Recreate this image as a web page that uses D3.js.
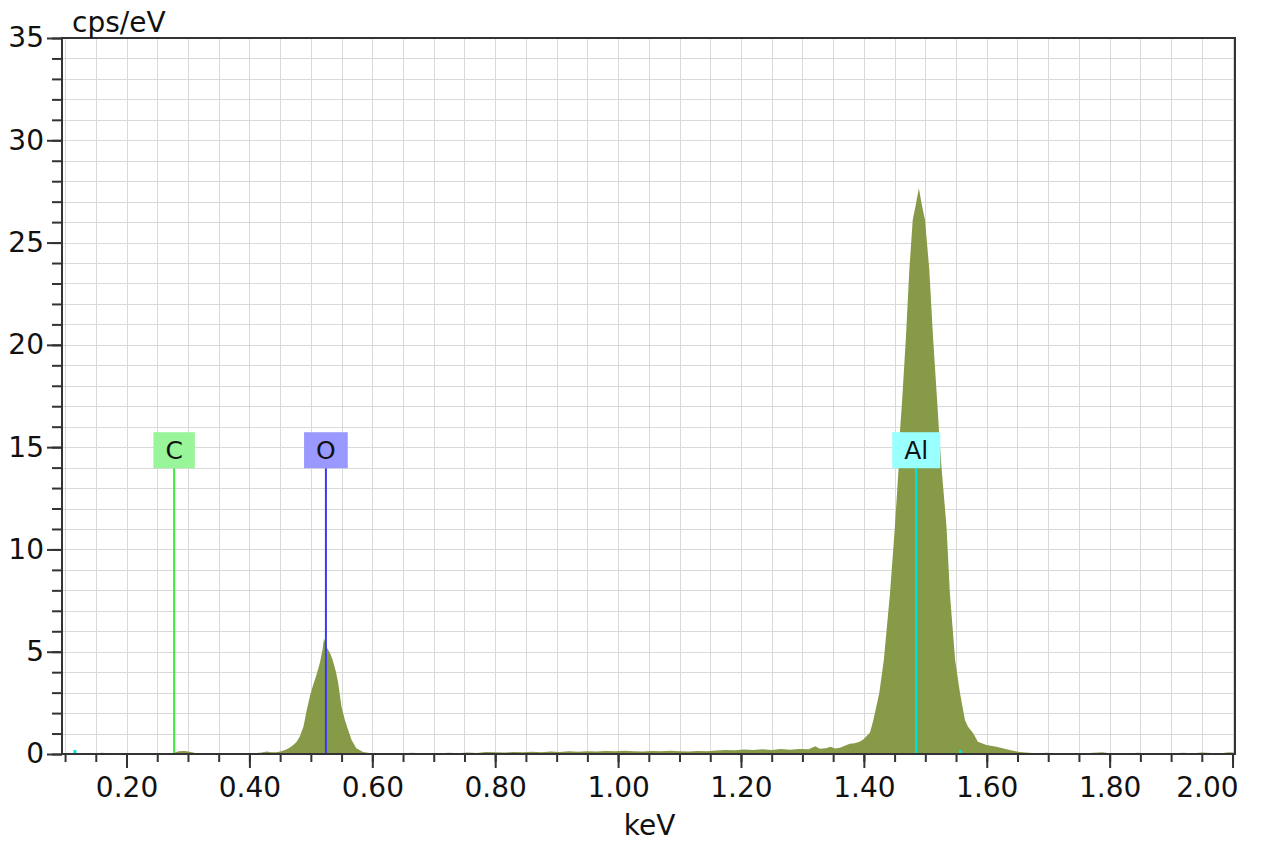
<!DOCTYPE html>
<html>
<head>
<meta charset="utf-8">
<script src="https://cdn.jsdelivr.net/npm/d3@7"></script>
<style>
  body { margin: 0; background: #fff; }
  text { font-family: "DejaVu Sans", Verdana, sans-serif; fill: #111; }
</style>
</head>
<body>
<div id="chart"></div>
<script>

// spectrum (keV, cps/eV)
const spectrumKeV = [
  0.095, 0.11, 0.12, 0.135, 0.15, 0.16, 0.175, 0.19, 0.205, 0.22, 0.235, 0.25, 0.265, 0.275,
  0.285, 0.295, 0.305, 0.315, 0.33, 0.345, 0.36, 0.375, 0.39, 0.405, 0.42, 0.428, 0.436, 0.444,
  0.452, 0.46, 0.466,
  0.4715, 0.477, 0.482, 0.488, 0.493, 0.499, 0.504, 0.5095, 0.515, 0.519, 0.5214, 0.524, 0.527,
  0.531, 0.5355, 0.541, 0.5446, 0.550, 0.5555, 0.561, 0.5663, 0.574, 0.585,
  0.595, 0.605, 0.62, 0.635, 0.65, 0.665, 0.68, 0.695, 0.71, 0.725, 0.74, 0.755, 0.77, 0.785,
  0.80, 0.815, 0.83, 0.845, 0.86, 0.875, 0.89, 0.905, 0.92, 0.935, 0.95, 0.965, 0.98, 0.995,
  1.01, 1.025, 1.04, 1.055, 1.07, 1.085, 1.10, 1.115, 1.13, 1.145, 1.16, 1.175, 1.19, 1.205,
  1.22, 1.235, 1.25, 1.265, 1.28, 1.295, 1.31, 1.321, 1.328, 1.338, 1.346, 1.353, 1.361, 1.369,
  1.377, 1.385, 1.393, 1.3995, 1.410, 1.4155, 1.425, 1.4325, 1.4425, 1.4505, 1.4565, 1.4585, 1.462,
  1.4685, 1.474, 1.4795, 1.4848, 1.4895, 1.494, 1.4995, 1.5065, 1.5125, 1.5195, 1.5225, 1.5265, 1.5345,
  1.540, 1.5485, 1.5565, 1.5645, 1.5695, 1.578, 1.5855, 1.5995, 1.6155, 1.6375, 1.653,
  1.668, 1.683, 1.698, 1.713, 1.728, 1.743, 1.758, 1.773, 1.788, 1.80, 1.815, 1.83, 1.845, 1.86,
  1.875, 1.89, 1.905, 1.92, 1.935, 1.95, 1.965, 1.98, 1.995, 2.004
];
const spectrumCps = [
  0.02, 0.04, 0.03, 0.05, 0.03, 0.06, 0.03, 0.05, 0.03, 0.02, 0.04, 0.03, 0.05, 0.04,
  0.13, 0.15, 0.10, 0.03, 0.02, 0.04, 0.02, 0.03, 0.02, 0.03, 0.07, 0.12, 0.08, 0.09,
  0.14, 0.22, 0.32,
  0.44, 0.60, 0.85, 1.35, 2.1, 2.9, 3.4, 3.9, 4.5, 5.1, 5.65, 5.4, 5.15,
  4.95, 4.6, 4.0, 3.45, 2.3, 1.65, 1.15, 0.68, 0.28, 0.10,
  0.05, 0.03, 0.05, 0.03, 0.04, 0.06, 0.03, 0.05, 0.04, 0.06, 0.04, 0.07, 0.05, 0.10,
  0.09, 0.07, 0.10, 0.08, 0.11, 0.09, 0.12, 0.10, 0.13, 0.11, 0.14, 0.12, 0.15, 0.13,
  0.16, 0.14, 0.12, 0.15, 0.13, 0.16, 0.14, 0.12, 0.15, 0.13, 0.17, 0.20, 0.18, 0.22,
  0.19, 0.23, 0.20, 0.24, 0.21, 0.25, 0.23, 0.38, 0.26, 0.28, 0.36, 0.27, 0.30, 0.40,
  0.50, 0.52, 0.60, 0.72, 1.05, 1.66, 2.97, 4.59, 7.85, 11.11, 13.96, 15.67, 17.14,
  20.4, 23.66, 26.1, 26.9, 27.65, 26.9, 26.1, 23.66, 20.4, 17.14, 15.67, 13.96, 11.11,
  7.85, 4.59, 2.97, 1.66, 1.33, 1.01, 0.60, 0.44, 0.36, 0.20, 0.10,
  0.06, 0.04, 0.06, 0.03, 0.05, 0.04, 0.03, 0.06, 0.08, 0.04, 0.05, 0.03, 0.06, 0.04,
  0.03, 0.05, 0.04, 0.06, 0.04, 0.07, 0.05, 0.04, 0.08, 0.06
];

// element markers
const elements = ['C', 'O', 'Al'];
const elementKeV = [0.2775, 0.5245, 1.4852];
const lineColors = ['#3fe63f', '#3a3af5', '#00e3e3'];
const boxColors = ['#99f599', '#9999ff', '#99ffff'];
const labelLevel = 14.85;

const xMajorTicks = [0.2, 0.4, 0.6, 0.8, 1.0, 1.2, 1.4, 1.6, 1.8, 2.0];
const yMajorTicks = [0, 5, 10, 15, 20, 25, 30, 35];

var width = 1261,
    height = 844,
    plotLeft = 62, plotRight = 1235, plotTop = 38, plotBottom = 754;

var x = d3.scaleLinear().domain([0.095, 2.004]).range([plotLeft, plotRight]);
var y = d3.scaleLinear().domain([0, 35]).range([plotBottom, plotTop]);

var svg = d3.select('#chart').append('svg')
    .attr('width', width)
    .attr('height', height);

svg.append('rect').attr('width', width).attr('height', height).attr('fill', '#fff');

// grid
var xMinor = d3.range(0.10, 2.0001, 0.05);
var yMinor = d3.range(0, 35.001, 1);

svg.append('g').selectAll('line')
    .data(xMinor).enter().append('line')
    .attr('x1', d => Math.round(x(d)) + 0.5).attr('x2', d => Math.round(x(d)) + 0.5)
    .attr('y1', plotTop).attr('y2', plotBottom)
    .attr('stroke', '#d9d9d9').attr('stroke-width', 1);

svg.append('g').selectAll('line')
    .data(yMinor.filter(d => d > 0 && d < 35)).enter().append('line')
    .attr('y1', d => Math.round(y(d)) + 0.5).attr('y2', d => Math.round(y(d)) + 0.5)
    .attr('x1', plotLeft).attr('x2', plotRight)
    .attr('stroke', '#d9d9d9').attr('stroke-width', 1);

// spectrum
var area = d3.area()
    .x((d, i) => x(spectrumKeV[i]))
    .y0(y(0))
    .y1(d => y(d));

svg.append('path')
    .datum(spectrumCps)
    .attr('d', area)
    .attr('fill', '#869a47');

// element lines and boxes
var boxH = 36;
elements.forEach(function (el, i) {
    var cx = x(elementKeV[i]);
    var cy = y(labelLevel);
    svg.append('line')
        .attr('x1', cx).attr('x2', cx)
        .attr('y1', cy + boxH / 2).attr('y2', plotBottom)
        .attr('stroke', lineColors[i]).attr('stroke-width', 2);
    var g = svg.append('g');
    var box = g.append('rect').attr('fill', boxColors[i]);
    var t = g.append('text')
        .attr('x', cx).attr('y', cy + 9)
        .attr('text-anchor', 'middle')
        .style('font-size', '25px')
        .text(el);
    var w = t.node().getComputedTextLength() + 24;
    box.attr('x', cx - w / 2).attr('y', cy - boxH / 2)
        .attr('width', w).attr('height', boxH);
});

// small marker dots on the baseline
[0.116, 1.557].forEach(function (k) {
    svg.append('rect')
        .attr('x', x(k) - 1.5).attr('y', plotBottom - 4)
        .attr('width', 3).attr('height', 3)
        .attr('fill', '#00e3e3');
});

// axes
var xMinorAxis = d3.axisBottom(x).tickValues(xMinor).tickSize(8).tickFormat('');
var xMajorAxis = d3.axisBottom(x).tickValues(xMajorTicks).tickSize(14).tickPadding(9)
    .tickFormat(d3.format('.2f'));
var yMinorAxis = d3.axisLeft(y).tickValues(yMinor).tickSize(10).tickFormat('');
var yMajorAxis = d3.axisLeft(y).tickValues(yMajorTicks).tickSize(15).tickPadding(3)
    .tickFormat(d3.format('d'));

function styleAxis(g) {
    g.select('.domain').remove();
    g.selectAll('.tick line').attr('stroke', '#333').attr('stroke-width', 2);
    g.selectAll('.tick text').style('font-size', '28px').style('font-family', '"DejaVu Sans", Verdana, sans-serif').attr('fill', '#111');
}

svg.append('g').attr('transform', `translate(0,${plotBottom})`).call(xMinorAxis).call(styleAxis);
var xg = svg.append('g').attr('transform', `translate(0,${plotBottom})`).call(xMajorAxis).call(styleAxis);
svg.append('g').attr('transform', `translate(${plotLeft},0)`).call(yMinorAxis).call(styleAxis);
svg.append('g').attr('transform', `translate(${plotLeft},0)`).call(yMajorAxis).call(styleAxis);

// keep the last label inside the frame, like the original
xg.selectAll('.tick text')
    .filter(d => d === 2.0)
    .attr('text-anchor', 'end')
    .attr('x', plotRight + 3 - x(2.0));

// frame
svg.append('rect')
    .attr('x', plotLeft).attr('y', plotTop)
    .attr('width', plotRight - plotLeft).attr('height', plotBottom - plotTop)
    .attr('fill', 'none').attr('stroke', '#333').attr('stroke-width', 2);

// titles
svg.append('text')
    .attr('x', 72).attr('y', 32)
    .style('font-size', '28px')
    .text('cps/eV');

svg.append('text')
    .attr('x', (plotLeft + plotRight) / 2 + 1).attr('y', 835)
    .attr('text-anchor', 'middle')
    .style('font-size', '28px')
    .text('keV');

</script>
</body>
</html>
